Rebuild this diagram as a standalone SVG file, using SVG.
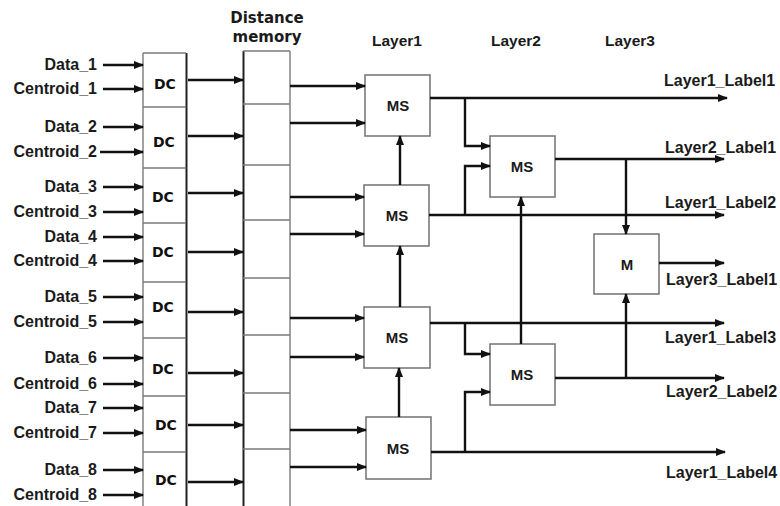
<svg xmlns="http://www.w3.org/2000/svg" width="780" height="506" viewBox="0 0 780 506">
<style>
.lbl{font-family:"Liberation Sans",Arial,sans-serif;font-weight:bold;font-size:16px;fill:#1a1a1a}
.hdr{font-family:"Liberation Sans",Arial,sans-serif;font-weight:bold;font-size:15.5px;fill:#1a1a1a}
.dm{font-family:"DejaVu Sans",sans-serif;font-weight:bold;font-size:15px;fill:#1a1a1a}
.dc{font-family:"DejaVu Sans",sans-serif;font-weight:bold;font-size:14px;fill:#111}
.ms{font-family:"Liberation Sans",Arial,sans-serif;font-weight:bold;font-size:15px;fill:#1a1a1a;text-anchor:middle}
.box{fill:#fff;stroke:#7a7a7a;stroke-width:1.6}
.cell{stroke:#7a7a7a;stroke-width:1.4;fill:none}
.edge{stroke:#111;stroke-width:2.4;fill:none}
.ar{stroke:#111;stroke-width:2.4;fill:none;marker-end:url(#ah)}
</style>
<defs>
<marker id="ah" markerUnits="userSpaceOnUse" markerWidth="10" markerHeight="8" refX="9" refY="4" orient="auto">
<path d="M0,0 L10,4 L0,8 z" fill="#111"/>
</marker>
</defs>
<rect width="780" height="506" fill="#fff"/>

<g id="headers">
<text class="dm" x="267" y="23" text-anchor="middle">Distance</text>
<text class="dm" x="267" y="42" text-anchor="middle">memory</text>
<text class="hdr" x="372" y="46">Layer1</text>
<text class="hdr" x="491" y="46">Layer2</text>
<text class="hdr" x="605" y="46">Layer3</text>
</g>

<g id="inputs" class="lbl" text-anchor="end">
<text x="97" y="70">Data_1</text>
<text x="97" y="94">Centroid_1</text>
<text x="97" y="132">Data_2</text>
<text x="97" y="157">Centroid_2</text>
<text x="97" y="192">Data_3</text>
<text x="97" y="217">Centroid_3</text>
<text x="97" y="242">Data_4</text>
<text x="97" y="266">Centroid_4</text>
<text x="97" y="302">Data_5</text>
<text x="97" y="327">Centroid_5</text>
<text x="97" y="363">Data_6</text>
<text x="97" y="389">Centroid_6</text>
<text x="97" y="413">Data_7</text>
<text x="97" y="438">Centroid_7</text>
<text x="97" y="475">Data_8</text>
<text x="97" y="500">Centroid_8</text>
</g>

<g id="dc-column">
<rect x="143" y="53" width="43" height="460" fill="#fff" stroke="none"/>
<line class="cell" x1="143" y1="53" x2="143" y2="506"/>
<line x1="186.5" y1="53" x2="186.5" y2="506" stroke="#222" stroke-width="2"/>
<line class="cell" x1="143" y1="53" x2="186" y2="53"/>
<line class="cell" x1="143" y1="107" x2="186" y2="107"/>
<line class="cell" x1="143" y1="168" x2="186" y2="168"/>
<line class="cell" x1="143" y1="223" x2="186" y2="223"/>
<line class="cell" x1="143" y1="282" x2="186" y2="282"/>
<line class="cell" x1="143" y1="338" x2="186" y2="338"/>
<line class="cell" x1="143" y1="396" x2="186" y2="396"/>
<line class="cell" x1="143" y1="452" x2="186" y2="452"/>
</g>
<g id="dc1"><text class="dc" x="154" y="89">DC</text></g>
<g id="dc2"><text class="dc" x="153" y="147">DC</text></g>
<g id="dc3"><text class="dc" x="152" y="202">DC</text></g>
<g id="dc4"><text class="dc" x="152" y="257">DC</text></g>
<g id="dc5"><text class="dc" x="152" y="312">DC</text></g>
<g id="dc6"><text class="dc" x="152" y="374">DC</text></g>
<g id="dc7"><text class="dc" x="155" y="430">DC</text></g>
<g id="dc8"><text class="dc" x="155" y="485">DC</text></g>

<g id="distance-memory">
<line x1="243.5" y1="51" x2="243.5" y2="506" stroke="#222" stroke-width="2"/>
<line class="cell" x1="290" y1="51" x2="290" y2="506"/>
<line class="cell" x1="243" y1="51" x2="290" y2="51"/>
<line class="cell" x1="243" y1="104" x2="290" y2="104"/>
<line class="cell" x1="243" y1="165" x2="290" y2="165"/>
<line class="cell" x1="243" y1="220" x2="290" y2="220"/>
<line class="cell" x1="243" y1="278" x2="290" y2="278"/>
<line class="cell" x1="243" y1="335" x2="290" y2="335"/>
<line class="cell" x1="243" y1="393" x2="290" y2="393"/>
<line class="cell" x1="243" y1="449" x2="290" y2="449"/>
</g>

<g id="ms1-1"><rect class="box" x="365" y="75" width="65" height="61"/><text class="ms" x="398" y="111">MS</text></g>
<g id="ms1-2"><rect class="box" x="364" y="185" width="65" height="61"/><text class="ms" x="397" y="221">MS</text></g>
<g id="ms1-3"><rect class="box" x="364" y="307" width="66" height="61"/><text class="ms" x="397" y="343">MS</text></g>
<g id="ms1-4"><rect class="box" x="366" y="417" width="65" height="62"/><text class="ms" x="398" y="454">MS</text></g>
<g id="ms2-1"><rect class="box" x="490" y="136" width="65" height="61"/><text class="ms" x="522" y="172">MS</text></g>
<g id="ms2-2"><rect class="box" x="490" y="344" width="65" height="61"/><text class="ms" x="522" y="380">MS</text></g>
<g id="m3"><rect class="box" x="594" y="234" width="65" height="60"/><text class="ms" x="627" y="270">M</text></g>

<g id="connectors">
<line class="ar" x1="103" y1="65" x2="143" y2="65"/>
<line class="ar" x1="103" y1="89" x2="143" y2="89"/>
<line class="ar" x1="103" y1="127" x2="143" y2="127"/>
<line class="ar" x1="100" y1="152" x2="143" y2="152"/>
<line class="ar" x1="103" y1="187" x2="143" y2="187"/>
<line class="ar" x1="103" y1="212" x2="143" y2="212"/>
<line class="ar" x1="103" y1="237" x2="143" y2="237"/>
<line class="ar" x1="103" y1="261" x2="143" y2="261"/>
<line class="ar" x1="103" y1="297" x2="143" y2="297"/>
<line class="ar" x1="103" y1="322" x2="143" y2="322"/>
<line class="ar" x1="103" y1="358" x2="143" y2="358"/>
<line class="ar" x1="103" y1="384" x2="143" y2="384"/>
<line class="ar" x1="103" y1="408" x2="143" y2="408"/>
<line class="ar" x1="103" y1="433" x2="143" y2="433"/>
<line class="ar" x1="103" y1="470" x2="143" y2="470"/>
<line class="ar" x1="103" y1="495" x2="143" y2="495"/>

<line class="ar" x1="188" y1="80" x2="243" y2="80"/>
<line class="ar" x1="188" y1="136" x2="243" y2="136"/>
<line class="ar" x1="188" y1="193" x2="243" y2="193"/>
<line class="ar" x1="188" y1="252" x2="243" y2="252"/>
<line class="ar" x1="188" y1="312" x2="243" y2="312"/>
<line class="ar" x1="188" y1="373" x2="243" y2="373"/>
<line class="ar" x1="188" y1="425" x2="243" y2="425"/>
<line class="ar" x1="188" y1="482" x2="243" y2="482"/>

<line class="ar" x1="290" y1="86" x2="365" y2="86"/>
<line class="ar" x1="290" y1="123" x2="365" y2="123"/>
<line class="ar" x1="290" y1="197" x2="364" y2="197"/>
<line class="ar" x1="290" y1="234" x2="364" y2="234"/>
<line class="ar" x1="290" y1="318" x2="364" y2="318"/>
<line class="ar" x1="290" y1="357" x2="364" y2="357"/>
<line class="ar" x1="290" y1="430" x2="366" y2="430"/>
<line class="ar" x1="290" y1="467" x2="366" y2="467"/>

<line class="ar" x1="400" y1="185" x2="400" y2="136"/>
<line class="ar" x1="400" y1="307" x2="400" y2="246"/>
<line class="ar" x1="399" y1="417" x2="399" y2="368"/>

<line class="ar" x1="430" y1="98" x2="727" y2="98"/>
<line class="ar" x1="429" y1="215" x2="724" y2="215"/>
<line class="ar" x1="430" y1="323" x2="724" y2="323"/>
<line class="ar" x1="431" y1="452" x2="725" y2="452"/>

<path class="ar" d="M465,98 V146 H490"/>
<path class="ar" d="M465,215 V166 H490"/>
<path class="ar" d="M465,323 V354 H490"/>
<path class="ar" d="M465,452 V392 H490"/>

<line class="ar" x1="521" y1="344" x2="521" y2="197"/>
<line class="ar" x1="555" y1="159" x2="724" y2="159"/>
<line class="ar" x1="555" y1="378" x2="724" y2="378"/>
<line class="ar" x1="626" y1="159" x2="626" y2="234"/>
<line class="ar" x1="626" y1="378" x2="626" y2="294"/>
<line class="ar" x1="659" y1="263" x2="724" y2="263"/>
</g>

<g id="outputs" class="lbl">
<text x="664" y="86">Layer1_Label1</text>
<text x="665" y="153">Layer2_Label1</text>
<text x="665" y="208">Layer1_Label2</text>
<text x="666" y="285">Layer3_Label1</text>
<text x="665" y="343">Layer1_Label3</text>
<text x="666" y="397">Layer2_Label2</text>
<text x="666" y="478">Layer1_Label4</text>
</g>
</svg>
